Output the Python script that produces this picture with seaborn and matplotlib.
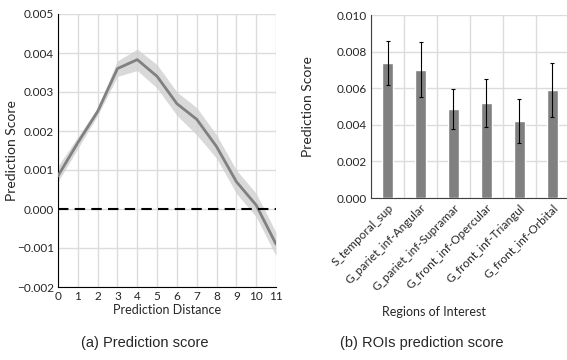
import numpy as np
import pandas as pd
import matplotlib
matplotlib.use("Agg")
import matplotlib.pyplot as plt
import seaborn as sns

# (a) prediction score vs distance
distance = list(range(12))
score_mean = [0.00085, 0.0017, 0.0025, 0.0036, 0.00383, 0.0034,
              0.0027, 0.0023, 0.0016, 0.0007, 0.0001, -0.0009]
score_low = [0.0007, 0.00155, 0.0024, 0.0034, 0.00355, 0.0031,
             0.0024, 0.0019, 0.0013, 0.0004, -0.0002, -0.0012]
score_high = [0.0011, 0.00185, 0.0026, 0.0038, 0.0041, 0.0037,
              0.0030, 0.0026, 0.0019, 0.0010, 0.0004, -0.0006]

# (b) ROI prediction score
rois = ["S_temporal_sup", "G_pariet_inf-Angular", "G_pariet_inf-Supramar",
        "G_front_inf-Opercular", "G_front_inf-Triangul", "G_front_inf-Orbital"]
roi_score = [0.0074, 0.0070, 0.00487, 0.0052, 0.0042, 0.0059]
roi_err = [0.0012, 0.0015, 0.0011, 0.0013, 0.0012, 0.0015]

sns.set_style("white")
plt.rcParams["font.family"] = ["Lato", "DejaVu Sans"]

fig = plt.figure(figsize=(5.67, 3.6), dpi=100)
grid_col = "#dcdcdc"

# ---- left panel
ax1 = fig.add_axes([58 / 567, 1 - 287 / 360, 218 / 567, 273 / 360])
df_a = pd.DataFrame({"distance": distance, "score": score_mean})
ax1.fill_between(distance, score_low, score_high, color="#d0d0d0", alpha=0.8, lw=0, zorder=2)
sns.lineplot(data=df_a, x="distance", y="score", ax=ax1, color="#808080", lw=2, zorder=3)
ax1.axhline(0, color="black", ls=(0, (5, 3)), lw=1.5, zorder=4)
ax1.set_xlim(0, 11)
ax1.set_ylim(-0.002, 0.005)
ax1.set_xticks(distance)
yt1 = np.arange(-0.002, 0.0051, 0.001)
ax1.set_yticks(yt1)
ax1.set_yticklabels([f"{v:.3f}".replace("-", "\u2212") for v in yt1])
ax1.grid(True, color=grid_col, lw=1)
ax1.set_axisbelow(True)
ax1.set_xlabel("Prediction Distance", fontsize=9, labelpad=1)
ax1.set_ylabel("Prediction Score", fontsize=10)
ax1.yaxis.set_label_coords(-0.183, 0.5)
ax1.tick_params(labelsize=8.5, length=2, pad=1)
for s in ["top", "right"]:
    ax1.spines[s].set_visible(False)
for s in ["left", "bottom"]:
    ax1.spines[s].set_color("black")
    ax1.spines[s].set_linewidth(0.8)

# ---- right panel
ax2 = fig.add_axes([371 / 567, 1 - 198 / 360, 198 / 567, 183 / 360])
df_b = pd.DataFrame({"roi": rois, "score": roi_score})
sns.barplot(data=df_b, x="roi", y="score", ax=ax2, color="#808080",
            width=0.35, saturation=1, zorder=3)
ax2.errorbar(range(len(rois)), roi_score, yerr=roi_err, fmt="none",
             ecolor="black", elinewidth=0.8, capsize=1.5, capthick=0.8, zorder=4)
ax2.set_xlim(-0.5, len(rois) - 0.5)
ax2.set_ylim(0, 0.010)
yt2 = np.arange(0, 0.0101, 0.002)
ax2.set_yticks(yt2)
ax2.set_yticklabels([f"{v:.3f}" for v in yt2])
ax2.set_xticks(np.arange(-0.5, len(rois), 1.0), minor=True)
ax2.grid(True, axis="y", color=grid_col, lw=1)
ax2.grid(True, axis="x", which="minor", color=grid_col, lw=1)
ax2.set_axisbelow(True)
ax2.set_xticks(range(len(rois)))
ax2.set_xticklabels(rois, rotation=45, ha="right", rotation_mode="anchor", fontsize=8.5)
ax2.tick_params(axis="y", labelsize=8.5, length=2, pad=1)
ax2.tick_params(axis="x", length=2, pad=1)
ax2.tick_params(axis="x", which="minor", length=0)
ax2.set_xlabel("")
ax2.set_ylabel("Prediction Score", fontsize=10)
ax2.yaxis.set_label_coords(-0.288, 0.5)
for s in ["top", "right"]:
    ax2.spines[s].set_visible(False)
for s in ["left", "bottom"]:
    ax2.spines[s].set_color("#404040")
    ax2.spines[s].set_linewidth(0.8)

fig.text(434 / 567, 1 - 312 / 360, "Regions of Interest", ha="center", va="center", fontsize=9)

# captions
fig.text(145 / 567, 1 - 343 / 360, "(a) Prediction score", ha="center", va="center",
         fontsize=10.5, family="Liberation Sans")
fig.text(422 / 567, 1 - 343 / 360, "(b) ROIs prediction score", ha="center", va="center",
         fontsize=10.5, family="Liberation Sans")

fig.savefig("out.png", dpi=100)
